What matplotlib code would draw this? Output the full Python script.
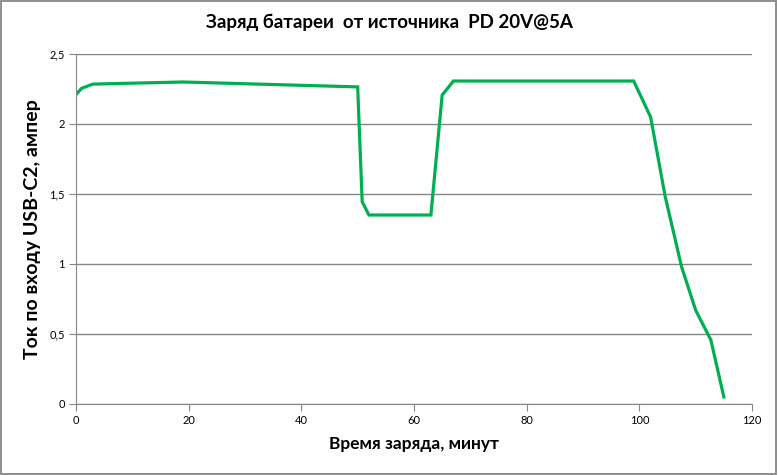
import matplotlib
matplotlib.use("Agg")
import matplotlib.pyplot as plt
from matplotlib.patches import Rectangle
from matplotlib.ticker import FuncFormatter

# charge time (minutes) and USB-C2 input current (amps)
minutes = [0, 1, 3, 19, 50, 50.8, 52, 63, 65, 67, 99, 102, 104.6, 107.5, 110, 112.7, 115]
current = [2.21, 2.255, 2.285, 2.30, 2.265, 1.445, 1.35, 1.35, 2.207, 2.307, 2.307,
           2.05, 1.48, 0.98, 0.67, 0.457, 0.05]

x_ticks = [0, 20, 40, 60, 80, 100, 120]
y_ticks = [0, 0.5, 1, 1.5, 2, 2.5]

plt.rcParams['font.family'] = ['Lato', 'DejaVu Sans']

fig = plt.figure(figsize=(7.78, 4.75), dpi=100)
ax = fig.add_axes([76 / 778, 1 - 404 / 475, 676 / 778, 350 / 475])

ax.plot(minutes, current, color='#00B050', linewidth=2.3, solid_joinstyle='miter')

ax.set_xlim(0, 120)
ax.set_ylim(0, 2.5)
ax.set_xticks(x_ticks)
ax.set_yticks(y_ticks)
ax.yaxis.set_major_formatter(FuncFormatter(lambda v, p: ('%g' % v).replace('.', ',')))
ax.grid(axis='y', color='#868686', linewidth=1)
ax.set_axisbelow(True)
for side in ('top', 'right'):
    ax.spines[side].set_visible(False)
for side in ('left', 'bottom'):
    ax.spines[side].set_color('#868686')
ax.tick_params(direction='out', length=5, color='#868686', labelsize=8, pad=3)

fig.text(0.5, 1 - 22 / 475, 'Заряд батареи  от источника  PD 20V@5A',
         fontsize=13.5, fontweight='bold', ha='center', va='center')
ax.set_xlabel('Время заряда, минут', fontsize=12.5, fontweight='bold', labelpad=7)
ax.set_ylabel('Ток по входу USB-C2, ампер', fontsize=14, fontweight='bold', labelpad=6)

# grey frame around the whole chart
fig.patches.append(Rectangle((0.001, 0.002), 0.997, 0.996, transform=fig.transFigure,
                             fill=False, edgecolor='#868686', linewidth=1.3))

fig.savefig('out.png', dpi=100)
